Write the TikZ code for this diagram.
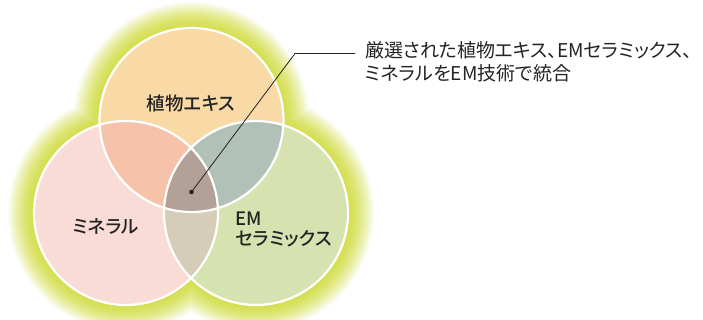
\documentclass[tikz,border=0pt]{standalone}
\usepackage{fontspec}
\newfontfamily\jp[RawFeature=+palt]{Noto Sans CJK JP}
\newfontfamily\jpb[RawFeature=+palt]{Noto Sans CJK JP Medium}
\definecolor{glowc}{RGB}{212,223,80}
\definecolor{cA}{RGB}{249,217,165}
\definecolor{cB}{RGB}{249,220,213}
\definecolor{cC}{RGB}{214,227,176}
\definecolor{cAB}{RGB}{246,194,169}
\definecolor{cAC}{RGB}{178,193,184}
\definecolor{cBC}{RGB}{214,205,184}
\definecolor{cABC}{RGB}{179,160,150}
\definecolor{txt}{RGB}{35,35,35}
\tikzset{
  lbl/.style={font=\jpb\fontsize{18.5}{20}\selectfont, text=txt, inner sep=0pt},
  note/.style={font=\jp\fontsize{19}{23.5}\selectfont, text=txt, inner sep=0pt, align=left, anchor=west},
  leader/.style={draw=txt, line width=0.8pt},
  rim/.style={draw=white, line width=2.2pt}
}
\def\R{92}
\begin{document}
\begin{tikzpicture}[x=1pt,y=-1pt]
\useasboundingbox (0,0) rectangle (703,320);
\fill[white] (0,0) rectangle (703,320);
\coordinate (A) at (191.5,120);
\coordinate (B) at (126,213);
\coordinate (C) at (256,213);
% glow
\foreach \k in {26,25,...,1}{
  \pgfmathsetmacro\p{100*(1-(\k/27)^1.6)}
  \fill[glowc!\p!white] (A) circle (\R+\k) (B) circle (\R+\k) (C) circle (\R+\k);
}
% base fills
\fill[cA] (A) circle (\R);
\fill[cB] (B) circle (\R);
\fill[cC] (C) circle (\R);
\begin{scope}
  \clip (A) circle (\R);
  \fill[cAB] (B) circle (\R);
  \fill[cAC] (C) circle (\R);
\end{scope}
\begin{scope}
  \clip (B) circle (\R);
  \fill[cBC] (C) circle (\R);
\end{scope}
\begin{scope}
  \clip (A) circle (\R);
  \clip (B) circle (\R);
  \fill[cABC] (C) circle (\R);
\end{scope}
\draw[rim] (A) circle (\R) (B) circle (\R) (C) circle (\R);
% labels
\node[lbl] (la) at (191,103.5) {植物エキス};
\node[lbl] (lb) at (106,226) {ミネラル};
\node[lbl, align=left, anchor=west] (lc) at (235.5,229.5) {EM\\セラミックス};
% leader
\coordinate (dot) at (191.5,192);
\coordinate (elbow) at (295,53.5);
\coordinate (lend) at (355,53.5);
\fill[txt] (dot) circle (2.3);
\draw[leader] (dot) -- (elbow) -- (lend);
\node[note] (nt) at (365,62) {厳選された植物エキス、EMセラミックス、\\ミネラルをEM技術で統合};
\end{tikzpicture}
\end{document}
